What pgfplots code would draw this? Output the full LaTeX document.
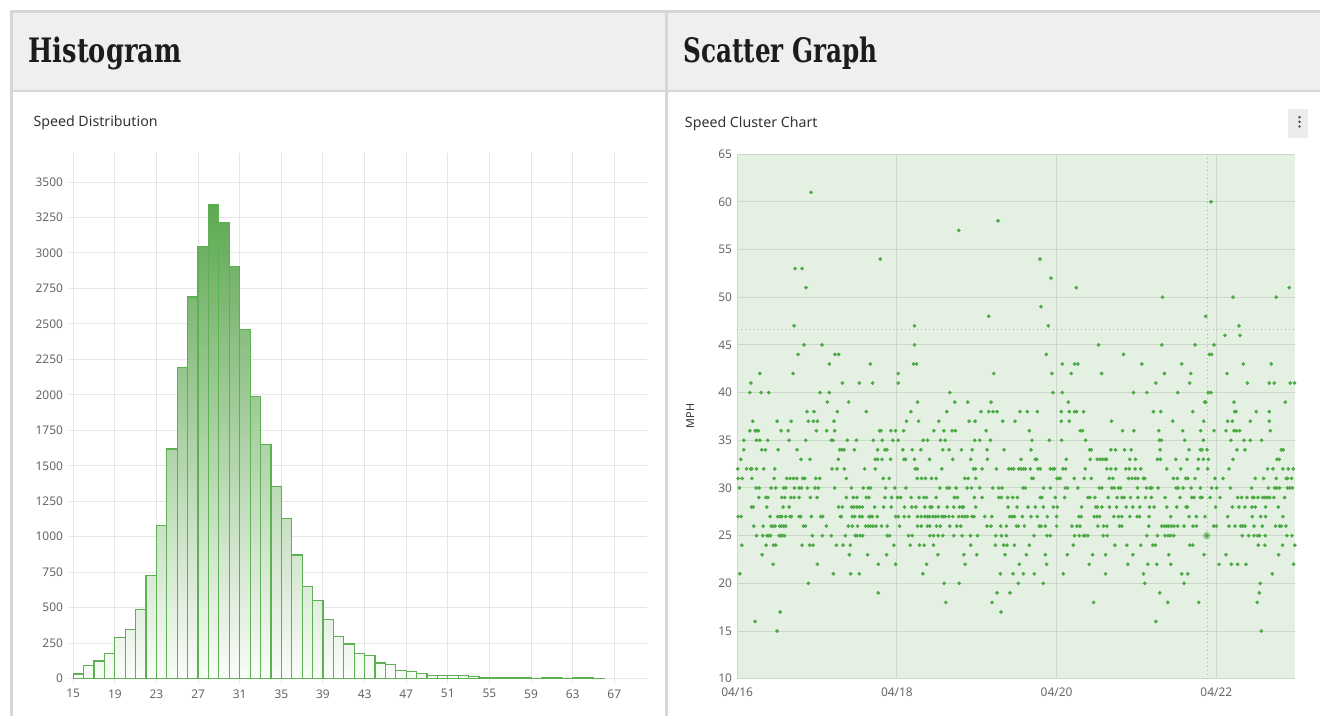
\documentclass[border=0pt]{standalone}
\usepackage{pgfplots}
\pgfplotsset{compat=1.18}
\usepackage{pgfplotstable}
\usepackage{graphicx}
\usepackage{fontspec}
\setmainfont{Noto Sans}
\newfontfamily\titlefont{DejaVu Serif}
\definecolor{hdrbg}{HTML}{EFEFEF}
\definecolor{bordc}{HTML}{D6D6D6}
\definecolor{titlec}{HTML}{1C1C1C}
\definecolor{subc}{HTML}{333333}
\definecolor{tickc}{HTML}{666666}
\definecolor{gridc}{HTML}{E6E6E6}
\definecolor{bartop}{HTML}{5FA853}
\definecolor{barbot}{HTML}{FAFCF9}
\definecolor{baredge}{HTML}{5DB152}
\definecolor{plotbg}{HTML}{E4F0E2}
\definecolor{sgrid}{HTML}{CCD8CA}
\definecolor{dotc}{HTML}{4CAA44}
\definecolor{crossc}{HTML}{B3B3B3}
\definecolor{kebabbg}{HTML}{ECECEC}
\definecolor{kebabc}{HTML}{555555}
\newcommand\tickfont{\fontsize{9}{10}\selectfont}

\pgfplotstableread{
bin count
15 32
16 90
17 124
18 178
19 287
20 345
21 486
22 728
23 1078
24 1618
25 2190
26 2690
27 3044
28 3340
29 3213
30 2904
31 2460
32 1988
33 1649
34 1351
35 1127
36 871
37 648
38 552
39 414
40 294
41 244
42 176
43 164
44 110
45 101
46 56
47 49
48 35
49 19
50 23
51 19
52 23
53 12
54 9
55 7
56 9
57 7
58 5
59 3
60 7
61 5
62 3
63 5
64 5
65 2
66 0
}\histdata

\begin{document}
\begin{tikzpicture}
% page decoration, in pixel units with y downward
\begin{scope}[shift={(0bp,537.75bp)}, x=0.75bp, y=-0.75bp]
\fill[white] (0,0) rectangle (1321,717);
\fill[hdrbg] (12,12) rectangle (1321,90);
\draw[bordc, line width=1.5bp] (12,90.8) -- (1321,90.8);
\draw[bordc, line width=2.25bp] (11.3,717) -- (11.3,11.2) -- (1321,11.2);
\draw[bordc, line width=2.25bp] (667.6,11.2) -- (667.6,717);
\node[anchor=base west, inner sep=0pt, text=titlec] at (28.3,62.7)
  {\resizebox{114.75bp}{19.2bp}{\titlefont\bfseries Histogram}};
\node[anchor=base west, inner sep=0pt, text=titlec] at (684,62.7)
  {\resizebox{145.7bp}{19.2bp}{\titlefont\bfseries Scatter Graph}};
\node[anchor=base west, inner sep=0pt, text=subc, font=\fontsize{10.7}{12}\selectfont] at (33.3,126.7) {Speed Distribution};
\node[anchor=base west, inner sep=0pt, text=subc, font=\fontsize{10.7}{12}\selectfont] at (685.5,127.7) {Speed Cluster Chart};
\fill[kebabbg] (1289.3,109) rectangle (1309,137.7);
\fill[kebabc] (1301,117.3) circle[radius=1.05bp];
\fill[kebabc] (1301,122) circle[radius=1.05bp];
\fill[kebabc] (1301,126.7) circle[radius=1.05bp];
\node[rotate=90, inner sep=0pt, text=subc, font=\fontsize{8.2}{9}\selectfont] at (691,416.5) {MPH};
\end{scope}

% ---------------- Histogram ----------------
\begin{axis}[
  at={(54.975bp,28.275bp)}, anchor=south west,
  scale only axis, width=430.5bp, height=394.5bp,
  xmin=15, xmax=70.1, ymin=0, ymax=3704,
  xtick={15,19,...,67}, ytick={0,250,...,3500},
  grid=major, major grid style={draw=gridc, line width=0.75bp},
  axis line style={draw=none},
  xtick pos=left, ytick pos=left,
  tick align=outside, major tick length=3bp,
  tick style={draw=gridc, line width=0.75bp},
  ticklabel style={font=\tickfont, text=tickc},
  yticklabel style={anchor=east, inner sep=0pt, xshift=-4.5bp},
  xticklabel style={anchor=north, inner sep=0pt, yshift=-5bp},
  /pgf/number format/1000 sep={},
  /pgf/number format/assume math mode=true,
]
\addplot[const plot mark left, draw=none, shading=axis, top color=bartop, bottom color=barbot]
  table[x=bin, y=count] {\histdata} \closedcycle;
\addplot[ybar interval, fill=none, draw=baredge, line width=0.9bp]
  table[x=bin, y=count] {\histdata};
\end{axis}

% ---------------- Scatter ----------------
\begin{axis}[
  at={(553.5bp,28.125bp)}, anchor=south west,
  scale only axis, width=419bp, height=393.9bp,
  xmin=0, xmax=167.7, ymin=10, ymax=65,
  xtick={0,48,96,144}, xticklabels={04/16,04/18,04/20,04/22},
  ytick={10,15,...,65},
  axis background/.style={fill=plotbg},
  grid=major, major grid style={draw=sgrid, line width=0.75bp},
  axis line style={draw=none}, major tick length=0pt,
  ticklabel style={font=\tickfont, text=tickc},
  yticklabel style={anchor=east, inner sep=0pt, xshift=-3.75bp},
  xticklabel style={anchor=north, inner sep=0pt, yshift=-7bp},
  /pgf/number format/assume math mode=true,
]
\addplot[crossc, line width=0.75bp, dash pattern=on 0.9bp off 2.1bp] coordinates {(141.3,10) (141.3,65)};
\addplot[crossc, line width=0.75bp, dash pattern=on 0.9bp off 2.1bp] coordinates {(0,46.6) (167.7,46.6)};
\addplot[dotc, only marks, mark=*, mark size=1.2bp, mark options={solid, draw=dotc, fill=dotc, line width=0.4bp}] coordinates {
(12.0,15) (157.5,15)
(5.4,16) (125.8,16)
(12.9,17) (79.3,17)
(62.7,18) (76.6,18) (107.1,18) (129.4,18) (138.7,18) (156.3,18)
(42.4,19) (78.1,19) (82.0,19) (127.0,19) (156.9,19)
(21.4,20) (62.2,20) (66.7,20) (84.5,20) (92.0,20) (122.5,20) (134.3,20) (157.2,20)
(0.8,21) (28.9,21) (34.1,21) (36.7,21) (55.8,21) (79.1,21) (82.9,21) (86.0,21) (89.3,21) (98.0,21) (110.7,21) (122.1,21) (133.6,21) (135.4,21) (160.8,21)
(10.8,22) (24.1,22) (42.4,22) (47.6,22) (56.9,22) (68.5,22) (84.8,22) (93.0,22) (105.8,22) (117.4,22) (123.4,22) (126.1,22) (130.3,22) (144.8,22) (148.5,22) (150.4,22) (152.9,22) (167.2,22)
(7.5,23) (33.7,23) (39.2,23) (44.9,23) (60.3,23) (68.1,23) (72.0,23) (80.5,23) (86.9,23) (92.6,23) (99.2,23) (106.8,23) (110.7,23) (118.9,23) (129.7,23) (140.3,23) (146.9,23) (162.7,23)
(1.4,24) (8.7,24) (10.9,24) (11.6,24) (19.5,24) (21.8,24) (22.8,24) (29.8,24) (31.8,24) (34.0,24) (47.1,24) (52.0,24) (54.8,24) (56.2,24) (59.0,24) (70.2,24) (77.6,24) (80.1,24) (81.1,24) (83.3,24) (87.8,24) (101.0,24) (113.5,24) (117.1,24) (121.3,24) (124.9,24) (125.7,24) (136.0,24) (136.9,24) (156.6,24) (158.6,24) (163.9,24) (167.6,24)
(5.8,25) (7.7,25) (9.0,25) (9.5,25) (10.0,25) (12.6,25) (13.1,25) (13.6,25) (14.2,25) (22.6,25) (25.6,25) (28.3,25) (32.5,25) (35.5,25) (36.0,25) (36.9,25) (37.7,25) (45.1,25) (45.8,25) (51.5,25) (52.6,25) (57.9,25) (59.0,25) (60.4,25) (61.8,25) (65.1,25) (67.6,25) (70.1,25) (72.2,25) (77.7,25) (79.4,25) (80.9,25) (89.2,25) (93.1,25) (94.1,25) (101.4,25) (102.8,25) (104.1,25) (104.6,25) (105.4,25) (110.0,25) (111.2,25) (123.1,25) (126.3,25) (128.6,25) (129.5,25) (130.2,25) (131.2,25) (151.8,25) (153.7,25) (155.3,25) (156.4,25) (157.0,25) (158.7,25) (165.2,25) (166.7,25)
(5.0,26) (7.8,26) (10.2,26) (10.8,26) (11.4,26) (12.8,26) (13.3,26) (14.0,26) (14.6,26) (19.9,26) (20.5,26) (26.8,26) (33.4,26) (34.6,26) (36.2,26) (38.6,26) (39.4,26) (40.1,26) (40.8,26) (41.7,26) (43.4,26) (45.1,26) (48.8,26) (54.2,26) (55.3,26) (57.2,26) (57.9,26) (59.9,26) (61.0,26) (63.9,26) (66.0,26) (67.2,26) (75.1,26) (76.3,26) (79.2,26) (80.9,26) (83.9,26) (84.5,26) (86.3,26) (90.8,26) (91.3,26) (92.6,26) (96.0,26) (100.6,26) (102.1,26) (103.0,26) (108.4,26) (110.1,26) (111.1,26) (114.9,26) (115.6,26) (123.7,26) (127.6,26) (128.4,26) (129.1,26) (129.7,26) (130.5,26) (131.3,26) (132.4,26) (134.3,26) (137.0,26) (138.0,26) (143.2,26) (144.0,26) (147.8,26) (149.6,26) (151.3,26) (151.9,26) (152.6,26) (155.3,26) (157.8,26) (161.8,26) (163.0,26) (163.5,26) (164.9,26)
(0.3,27) (1.2,27) (9.9,27) (12.2,27) (12.9,27) (13.4,27) (14.6,27) (15.9,27) (16.3,27) (18.6,27) (19.1,27) (22.3,27) (25.1,27) (25.7,27) (31.0,27) (31.3,27) (34.6,27) (35.3,27) (36.8,27) (37.6,27) (39.6,27) (40.1,27) (40.6,27) (42.1,27) (47.6,27) (48.4,27) (50.2,27) (51.6,27) (54.2,27) (55.3,27) (56.4,27) (57.2,27) (57.8,27) (58.8,27) (59.6,27) (60.4,27) (61.5,27) (62.0,27) (62.5,27) (63.6,27) (64.8,27) (66.6,27) (67.6,27) (68.4,27) (69.2,27) (70.6,27) (71.2,27) (74.4,27) (76.5,27) (81.9,27) (82.6,27) (83.3,27) (85.7,27) (88.3,27) (90.2,27) (93.2,27) (96.0,27) (102.7,27) (103.4,27) (107.3,27) (108.1,27) (108.9,27) (113.2,27) (114.6,27) (115.6,27) (118.0,27) (120.2,27) (120.9,27) (123.8,27) (130.3,27) (135.8,27) (138.0,27) (140.6,27) (147.4,27) (154.8,27) (157.3,27) (158.8,27) (164.0,27)
(4.3,28) (4.8,28) (8.9,28) (13.8,28) (15.6,28) (30.5,28) (31.6,28) (34.4,28) (35.1,28) (36.0,28) (36.8,28) (37.6,28) (41.3,28) (44.0,28) (46.3,28) (50.3,28) (52.5,28) (53.7,28) (56.4,28) (58.0,28) (58.5,28) (60.5,28) (63.1,28) (65.1,28) (66.8,28) (67.6,28) (68.0,28) (71.7,28) (81.4,28) (84.1,28) (87.4,28) (89.6,28) (92.0,28) (95.0,28) (96.2,28) (103.5,28) (107.8,28) (108.3,28) (109.6,28) (111.9,28) (114.0,28) (116.9,28) (118.9,28) (121.0,28) (123.9,28) (125.3,28) (129.1,28) (132.1,28) (134.9,28) (135.3,28) (143.8,28) (148.8,28) (150.8,28) (152.6,28) (154.7,28) (155.7,28) (158.8,28) (162.6,28)
(6.5,29) (8.6,29) (9.2,29) (13.4,29) (14.3,29) (16.1,29) (17.1,29) (18.6,29) (22.0,29) (24.0,29) (32.8,29) (34.9,29) (36.0,29) (38.8,29) (39.6,29) (44.4,29) (46.4,29) (48.2,29) (49.1,29) (52.3,29) (54.7,29) (56.1,29) (56.9,29) (59.8,29) (65.3,29) (66.2,29) (71.3,29) (73.6,29) (78.6,29) (79.4,29) (81.3,29) (82.8,29) (84.2,29) (91.1,29) (91.6,29) (95.6,29) (98.4,29) (105.4,29) (106.0,29) (107.5,29) (111.5,29) (114.2,29) (115.6,29) (116.3,29) (118.2,29) (120.4,29) (122.7,29) (124.5,29) (128.6,29) (133.1,29) (136.6,29) (137.3,29) (139.2,29) (139.7,29) (142.1,29) (145.1,29) (150.4,29) (151.6,29) (153.2,29) (154.9,29) (155.3,29) (156.5,29) (157.9,29) (158.6,29) (159.3,29) (160.0,29) (161.3,29) (164.5,29)
(0.7,30) (5.7,30) (6.6,30) (10.2,30) (11.6,30) (14.0,30) (14.6,30) (17.2,30) (18.6,30) (19.3,30) (21.1,30) (23.4,30) (24.4,30) (29.3,30) (34.3,30) (37.9,30) (39.4,30) (40.1,30) (44.6,30) (47.4,30) (50.7,30) (60.9,30) (63.1,30) (63.8,30) (65.8,30) (69.1,30) (70.4,30) (72.9,30) (76.8,30) (78.6,30) (79.6,30) (85.9,30) (86.6,30) (92.1,30) (94.1,30) (98.6,30) (99.3,30) (102.4,30) (108.8,30) (109.6,30) (112.6,30) (113.3,30) (114.6,30) (115.2,30) (120.3,30) (123.0,30) (124.1,30) (124.6,30) (126.5,30) (131.9,30) (132.5,30) (134.0,30) (136.4,30) (139.2,30) (142.6,30) (144.1,30) (148.2,30) (154.6,30) (159.6,30) (161.5,30) (162.2,30) (163.0,30) (165.4,30) (166.0,30) (166.8,30)
(0.3,31) (1.5,31) (4.4,31) (11.1,31) (14.9,31) (15.9,31) (16.9,31) (17.9,31) (19.7,31) (20.3,31) (23.6,31) (24.8,31) (32.8,31) (43.9,31) (45.7,31) (54.1,31) (55.4,31) (56.6,31) (58.4,31) (59.8,31) (68.4,31) (69.4,31) (71.7,31) (88.5,31) (89.0,31) (96.1,31) (96.7,31) (97.1,31) (101.3,31) (104.3,31) (106.4,31) (111.8,31) (112.9,31) (117.6,31) (118.6,31) (119.6,31) (120.4,31) (122.1,31) (122.5,31) (131.1,31) (132.3,31) (134.8,31) (135.4,31) (137.6,31) (143.6,31) (146.0,31) (155.7,31) (158.2,31) (162.0,31) (165.0,31) (165.4,31) (166.6,31)
(0.2,32) (2.8,32) (4.0,32) (4.4,32) (5.8,32) (8.0,32) (11.3,32) (28.5,32) (30.0,32) (32.2,32) (38.3,32) (41.5,32) (53.5,32) (54.1,32) (61.5,32) (71.0,32) (71.6,32) (73.6,32) (77.9,32) (81.6,32) (82.4,32) (83.1,32) (84.6,32) (85.3,32) (86.0,32) (86.6,32) (88.1,32) (90.4,32) (91.1,32) (94.1,32) (94.9,32) (95.4,32) (97.9,32) (98.7,32) (104.6,32) (111.1,32) (112.3,32) (113.8,32) (116.8,32) (117.8,32) (119.6,32) (121.3,32) (129.1,32) (133.3,32) (138.5,32) (141.4,32) (147.8,32) (159.4,32) (161.0,32) (164.0,32) (165.6,32) (167.1,32)
(1.1,33) (19.2,33) (21.9,33) (30.4,33) (41.5,33) (42.2,33) (43.5,33) (46.1,33) (50.1,33) (50.6,33) (53.3,33) (57.8,33) (64.8,33) (70.2,33) (75.2,33) (85.3,33) (89.6,33) (90.0,33) (98.9,33) (106.1,33) (108.2,33) (109.0,33) (109.8,33) (110.6,33) (111.0,33) (118.0,33) (119.7,33) (126.3,33) (127.2,33) (131.8,33) (135.2,33) (138.6,33) (140.1,33) (141.6,33) (149.0,33) (162.2,33) (162.9,33)
(2.0,34) (7.4,34) (8.5,34) (12.3,34) (18.0,34) (30.8,34) (31.4,34) (32.1,34) (35.2,34) (42.2,34) (44.4,34) (45.0,34) (49.8,34) (52.6,34) (55.2,34) (61.8,34) (63.7,34) (67.4,34) (70.6,34) (75.1,34) (80.2,34) (88.3,34) (105.9,34) (106.4,34) (112.3,34) (113.7,34) (116.4,34) (118.4,34) (127.1,34) (135.8,34) (139.2,34) (139.7,34) (141.2,34) (150.2,34) (152.6,34) (163.5,34) (164.1,34)
(2.0,35) (5.8,35) (6.8,35) (9.2,35) (15.6,35) (20.6,35) (28.3,35) (28.8,35) (33.1,35) (35.8,35) (40.9,35) (43.6,35) (46.8,35) (48.4,35) (55.9,35) (57.2,35) (61.1,35) (62.5,35) (71.4,35) (72.9,35) (76.1,35) (88.6,35) (93.8,35) (97.5,35) (104.7,35) (126.9,35) (127.5,35) (134.5,35) (140.1,35) (148.4,35) (152.3,35) (154.2,35) (157.6,35)
(3.8,36) (5.4,36) (5.9,36) (6.4,36) (13.2,36) (15.3,36) (23.8,36) (26.9,36) (29.3,36) (42.8,36) (43.2,36) (46.2,36) (47.6,36) (50.0,36) (59.1,36) (62.1,36) (64.6,36) (65.6,36) (74.8,36) (87.8,36) (103.1,36) (103.8,36) (115.8,36) (119.2,36) (126.7,36) (133.9,36) (139.3,36) (143.3,36) (146.9,36) (149.3,36) (150.0,36) (151.0,36) (160.2,36)
(4.7,37) (12.0,37) (16.2,37) (21.4,37) (22.9,37) (24.1,37) (29.1,37) (50.9,37) (54.5,37) (60.6,37) (69.7,37) (71.5,37) (79.8,37) (83.5,37) (97.4,37) (99.8,37) (112.5,37) (130.9,37) (140.2,37) (147.4,37) (148.8,37) (154.2,37) (159.9,37)
(21.0,38) (23.1,38) (30.1,38) (38.8,38) (52.2,38) (63.0,38) (73.3,38) (75.6,38) (76.9,38) (78.1,38) (85.0,38) (87.2,38) (90.2,38) (97.4,38) (99.8,38) (101.4,38) (102.0,38) (104.1,38) (125.1,38) (127.3,38) (136.9,38) (149.5,38) (149.9,38) (156.0,38) (159.9,38)
(27.1,39) (33.5,39) (54.2,39) (65.4,39) (69.3,39) (76.3,39) (99.5,39) (140.5,39) (140.8,39) (149.3,39) (164.7,39)
(3.8,40) (7.2,40) (9.5,40) (24.9,40) (27.7,40) (63.9,40) (94.9,40) (97.7,40) (119.1,40) (123.1,40) (132.4,40) (141.6,40) (142.4,40)
(4.1,41) (31.6,41) (36.7,41) (40.7,41) (48.4,41) (125.8,41) (136.0,41) (153.3,41) (159.9,41) (161.4,41) (166.2,41) (167.5,41)
(6.8,42) (16.8,42) (48.4,42) (77.1,42) (94.6,42) (100.4,42) (109.5,42) (128.4,42) (136.3,42) (147.2,42)
(27.7,43) (40.0,43) (53.0,43) (53.9,43) (97.7,43) (101.4,43) (102.4,43) (121.6,43) (133.6,43) (152.1,43) (160.5,43)
(18.3,44) (29.4,44) (30.5,44) (92.9,44) (116.1,44) (141.9,44) (142.6,44)
(20.1,45) (25.5,45) (53.3,45) (108.6,45) (127.6,45) (137.6,45) (143.3,45)
(146.6,46) (151.1,46)
(17.1,47) (53.3,47) (93.5,47) (150.8,47)
(75.6,48) (140.8,48)
(91.3,49)
(127.8,50) (149.0,50) (162.0,50)
(20.7,51) (101.9,51) (165.9,51)
(94.3,52)
(17.4,53) (19.5,53)
(43.0,54) (91.0,54)
(66.6,57)
(78.4,58)
(142.4,60)
(22.2,61)
};
\addplot[dotc, only marks, mark=*, mark size=2.6bp, mark options={solid, draw=dotc, draw opacity=0.5, fill=dotc, fill opacity=0.35}] coordinates {(141.1,25)};
\addplot[dotc, only marks, mark=*, mark size=1.4bp, mark options={solid, draw=dotc, fill=dotc}] coordinates {(141.1,25)};
\end{axis}
\end{tikzpicture}
\end{document}
